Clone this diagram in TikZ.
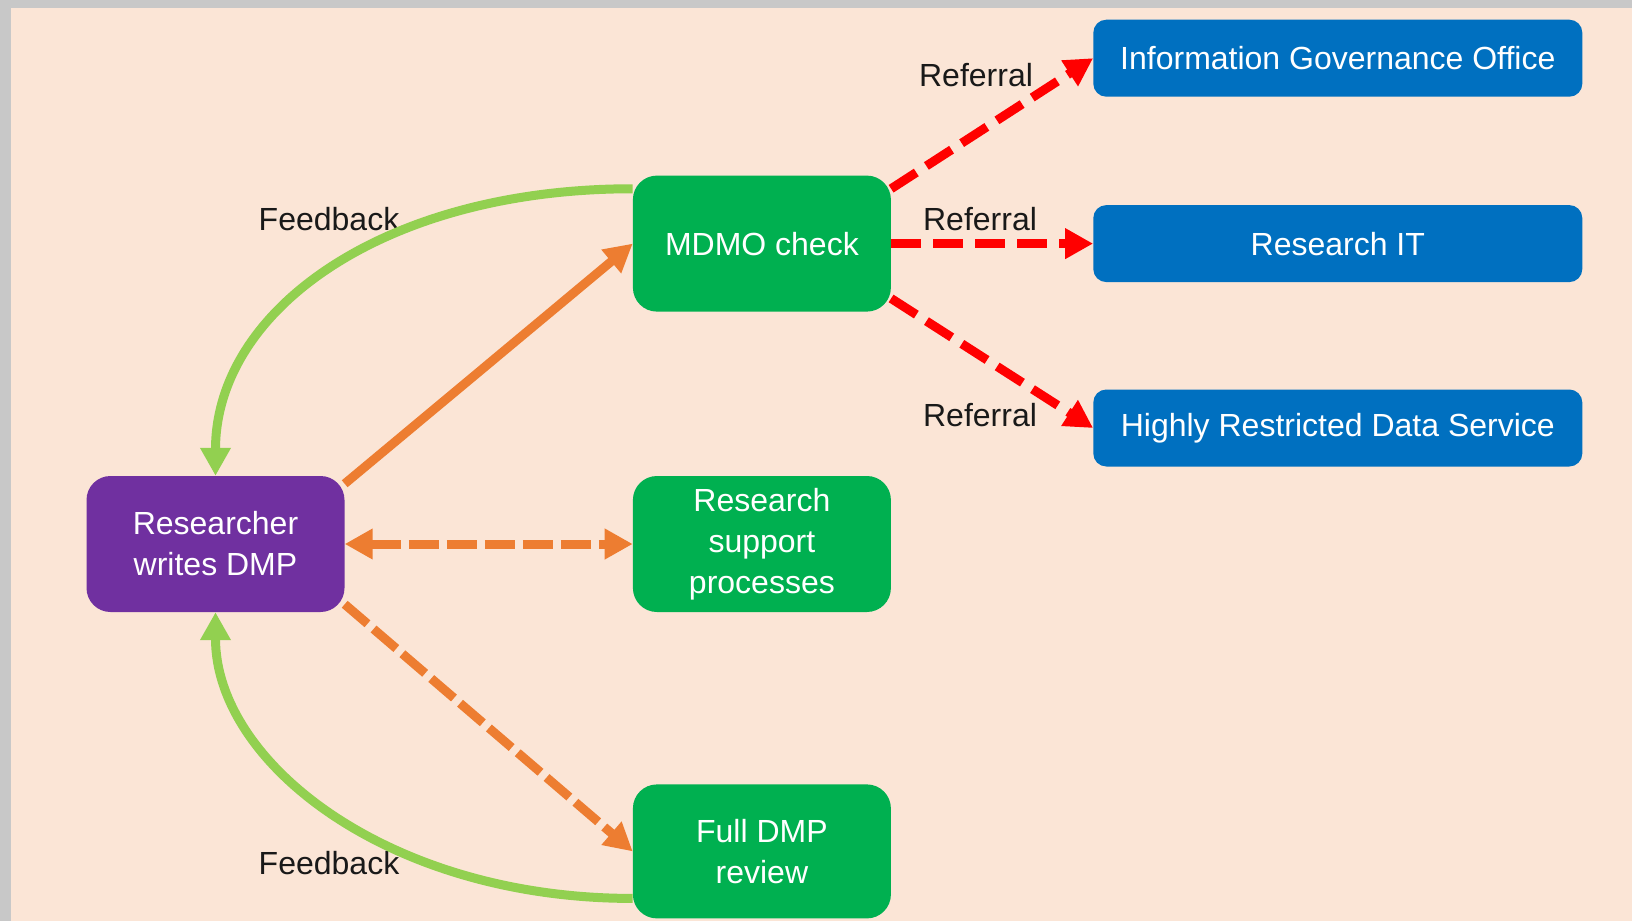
\documentclass[tikz,border=0pt]{standalone}
\usepackage{fontspec}
\setmainfont{Liberation Sans}
\usetikzlibrary{arrows.meta,positioning}
\definecolor{peach}{HTML}{FBE5D6}
\definecolor{frame}{HTML}{C8C8C8}
\definecolor{boxgreen}{HTML}{00B050}
\definecolor{boxblue}{HTML}{0070C0}
\definecolor{boxpurple}{HTML}{7030A0}
\definecolor{linkorange}{HTML}{ED7D31}
\definecolor{linkgreen}{HTML}{92D050}
\definecolor{linkred}{HTML}{FF0000}

\begin{document}
\begin{tikzpicture}[x=1pt,y=1pt,>={Triangle[length=28pt,width=29pt]},
		Node/.style={rectangle,align=center,rounded corners=24pt,text=white,inner sep=0pt,
			minimum width=258pt,minimum height=136pt,font=\fontsize{32}{41}\selectfont},
		Green/.style={Node,fill=boxgreen},
		Office/.style={Node,fill=boxblue,rounded corners=13pt,minimum width=489pt,minimum height=77pt},
		Label/.style={inner sep=0pt,text=black!90,font=\fontsize{32}{41}\selectfont},
		Arrow/.style={->,line width=9pt},
		Solid/.style={Arrow,linkorange},
		Dashed/.style={Arrow,linkorange,dash pattern=on 30pt off 8pt},
		Referral/.style={Arrow,linkred,dash pattern=on 30pt off 12pt},
		Feedback/.style={Arrow,linkgreen}]
		\pgfmathsetmacro{\dx}{288}
		% background
		\useasboundingbox (0,0) rectangle (1632,-921);
		\fill[frame] (0,0) rectangle (1632,-921);
		\fill[peach] (11,-8) rectangle (1632,-921);
		% nodes
		\node[Node,fill=boxpurple] (Researcher) at (215.5,-544) {Researcher\\writes DMP};
		\node[Green] (Support) [right=\dx pt of Researcher] {Research\\support\\processes};
		\node[Green] (MDMO) [above=164pt of Support] {MDMO check};
		\node[Green,minimum height=134pt] (Review) [below=172pt of Support] {Full DMP\\review};
		\node[Office] (RIT) [right=202pt of MDMO] {Research IT};
		\node[Office] (IGO) [above=108pt of RIT] {Information Governance Office};
		\node[Office] (HRDS) [below=107pt of RIT] {Highly Restricted Data Service};
		% labels
		\node[Label] (Ref1) at (976,-75) {Referral};
		\node[Label] (Ref2) at (980,-219) {Referral};
		\node[Label] (Ref3) at (980,-415) {Referral};
		\node[Label] (Fb1) at (329,-219) {Feedback};
		\node[Label] (Fb2) at (329,-863) {Feedback};
		% connections
		\draw [Solid] (Researcher.25) -- (MDMO.west);
		\draw [Dashed,<->] (Researcher) -- (Support);
		\draw [Dashed] (Researcher.335) -- (Review.west);
		\draw [Feedback] (MDMO.157) .. controls +(-250,0) and +(0,165) .. (Researcher.north);
		\draw [Feedback] (Review.200) .. controls +(-245,0) and +(0,-150) .. (Researcher.south);
		\draw [Referral] (MDMO.23) -- (IGO.west);
		\draw [Referral] (MDMO) -- (RIT);
		\draw [Referral] (MDMO.337) -- (HRDS.west);
	\end{tikzpicture}
\end{document}
